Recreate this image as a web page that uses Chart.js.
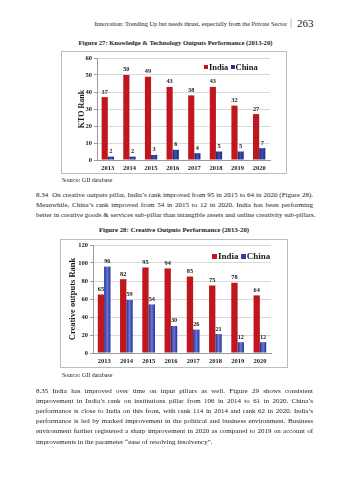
<!DOCTYPE html>
<html>
<head>
<meta charset="utf-8">
<script src="https://cdn.jsdelivr.net/npm/chart.js@4.4.1/dist/chart.umd.min.js"></script>
<style>
body{margin:0;width:349px;height:480px;background:#fff;position:relative;overflow:hidden;font-family:"Liberation Serif","Times New Roman",serif;color:#1a1a1a}
.t{position:absolute;white-space:nowrap;line-height:1}
.j{position:absolute;left:36px;width:277px;white-space:nowrap;text-align:justify;text-align-last:justify;font-size:7px;line-height:1}
.box{position:absolute;border:1px solid #bdbdbd;box-sizing:border-box}
.wrap{position:absolute}
.lg{position:absolute;font-weight:bold;white-space:nowrap;line-height:1;display:flex;align-items:center}
.sq{display:inline-block;margin-right:1px}
</style>
</head>
<body>

<div class="t" style="right:62px;top:21px;font-size:6.3px">Innovation: Trending Up but needs thrust, especially from the Private Sector</div>
<div class="t" style="left:290px;top:18px;font-size:10px;color:#777">|</div>
<div class="t" style="left:297px;top:17.5px;font-size:11px">263</div>

<div class="t" style="left:0;width:351px;text-align:center;top:39.5px;font-size:6.6px;font-weight:bold">Figure 27: Knowledge &amp; Technology Outputs Performance (2013-20)</div>

<div class="wrap" style="left:61px;top:51px;width:226px;height:123px"><canvas id="ktoChart"></canvas></div>
<div class="box" style="left:61px;top:51px;width:226px;height:123px"></div>
<div class="lg" style="left:204px;top:62.5px;font-size:8.5px">
  <span class="sq" style="width:4px;height:4px;background:#c0171f"></span>India&nbsp;
  <span class="sq" style="width:4px;height:4px;background:#26349a"></span>China
</div>

<div class="t" style="left:62px;top:177px;font-size:6px">Source: GII database</div>

<div class="j" style="top:191.5px">8.34&nbsp; On creative outputs pillar, India’s rank improved from 95 in 2015 to 64 in 2020 (Figure 28).</div>
<div class="j" style="top:201.5px">Meanwhile, China’s rank improved from 54 in 2015 to 12 in 2020. India has been performing</div>
<div class="j" style="top:211.5px">better in creative goods &amp; services sub-pillar than intangible assets and online creativity sub-pillars.</div>

<div class="t" style="left:0;width:348px;text-align:center;top:226.5px;font-size:6.8px;font-weight:bold">Figure 28: Creative Outputs Performance (2013-20)</div>

<div class="wrap" style="left:60px;top:239px;width:228px;height:129px"><canvas id="coChart"></canvas></div>
<div class="box" style="left:60px;top:239px;width:228px;height:129px"></div>
<div class="lg" style="left:212px;top:251.5px;font-size:9px">
  <span class="sq" style="width:5px;height:5px;background:#c0171f"></span>India&nbsp;
  <span class="sq" style="width:5px;height:5px;background:#2f3ea8"></span>China
</div>

<div class="t" style="left:62px;top:372px;font-size:6px">Source: GII database</div>

<div class="j" style="top:387.5px">8.35 India has improved over time on input pillars as well. Figure 29 shows consistent</div>
<div class="j" style="top:397.8px">improvement in India’s rank on institutions pillar from 106 in 2014 to 61 in 2020. China’s</div>
<div class="j" style="top:408px">performance is close to India on this front, with rank 114 in 2014 and rank 62 in 2020. India’s</div>
<div class="j" style="top:418.2px">performance is led by marked improvement in the political and business environment. Business</div>
<div class="j" style="top:428.4px">environment further registered a sharp improvement in 2020 as compared to 2019 on account of</div>
<div class="t" style="left:36px;top:438.6px;font-size:7px">improvements in the parameter “ease of resolving insolvency”.</div>

<script>
/* data */
const years = ['2013', '2014', '2015', '2016', '2017', '2018', '2019', '2020'];

const ktoIndia = [37, 50, 49, 43, 38, 43, 32, 27];
const ktoChina = [2, 2, 3, 6, 4, 5, 5, 7];
const ktoTicks = [0, 10, 20, 30, 40, 50, 60];

const coIndia = [65, 82, 95, 94, 85, 75, 78, 64];
const coChina = [96, 59, 54, 30, 26, 21, 12, 12];
const coTicks = [0, 20, 40, 60, 80, 100, 120];

const RED = '#c0171f';
const CAT_PCT = 0.57;

/* etiquetas de valor sobre as barras */
const valueLabels = {
  id: 'valueLabels',
  afterDatasetsDraw(chart, args, opts) {
    const ctx = chart.ctx;
    ctx.save();
    ctx.font = 'bold ' + opts.size + 'px "Liberation Serif"';
    ctx.fillStyle = '#1a1a1a';
    ctx.textAlign = 'center';
    ctx.textBaseline = 'bottom';
    chart.data.datasets.forEach((ds, i) => {
      chart.getDatasetMeta(i).data.forEach((bar, j) => {
        ctx.fillText(ds.data[j], bar.x, bar.y - 2);
      });
    });
    ctx.restore();
  }
};

// azul com centro mais claro, calculado a partir da escala x
function blueShade(dark, light) {
  return (c) => {
    const x = c.chart.scales.x;
    if (!x || c.dataIndex === undefined) return dark;
    const w = x.width / years.length * CAT_PCT / 2;
    const cx = x.getPixelForValue(c.dataIndex);
    if (!isFinite(w) || !isFinite(cx) || w <= 0) return dark;
    const g = c.chart.ctx.createLinearGradient(cx, 0, cx + w, 0);
    g.addColorStop(0, dark);
    g.addColorStop(0.5, light);
    g.addColorStop(1, dark);
    return g;
  };
}

function makeChart(id, india, china, ticks, cfg) {
  const ticksMax = ticks[ticks.length - 1];
  return new Chart(document.getElementById(id), {
    type: 'bar',
    data: {
      labels: years,
      datasets: [
        { label: 'India', data: india, backgroundColor: RED, categoryPercentage: CAT_PCT, barPercentage: 1 },
        { label: 'China', data: china, backgroundColor: blueShade(cfg.dark, cfg.light), categoryPercentage: CAT_PCT, barPercentage: 1 }
      ]
    },
    options: {
      responsive: true,
      maintainAspectRatio: false,
      animation: false,
      layout: { padding: { left: 0, right: cfg.padRight, top: cfg.padTop, bottom: 0 } },
      scales: {
        x: {
          grid: { display: false, drawTicks: false },
          border: { color: '#9a9a9a' },
          ticks: { color: '#1a1a1a', padding: cfg.xPad, font: { family: 'Liberation Serif', weight: 'bold', size: 6.5 } },
          afterFit: (s) => { s.height = cfg.xHeight; }
        },
        y: {
          min: 0,
          max: ticksMax,
          afterBuildTicks: (s) => { s.ticks = ticks.map(v => ({ value: v })); },
          grid: { color: '#d9d9d9', tickLength: 3, tickColor: '#9a9a9a' },
          border: { color: '#9a9a9a' },
          ticks: { color: '#1a1a1a', padding: 2, font: { family: 'Liberation Serif', weight: 'bold', size: 6.5 } },
          title: {
            display: true,
            text: cfg.yTitle,
            color: '#1a1a1a',
            padding: { top: cfg.titlePad, bottom: 0 },
            font: { family: 'Liberation Serif', weight: 'bold', size: cfg.titleSize, lineHeight: 1.2 }
          },
          afterFit: (s) => { s.width = cfg.yWidth; }
        }
      },
      plugins: {
        legend: { display: false },
        tooltip: { enabled: false },
        valueLabels: { size: 6.3 }
      }
    },
    plugins: [valueLabels]
  });
}

makeChart('ktoChart', ktoIndia, ktoChina, ktoTicks, {
  yTitle: 'KTO Rank', titleSize: 8, titlePad: 16,
  yWidth: 36, xHeight: 14, padRight: 17, padTop: 7, xPad: 4,
  dark: '#1b2878', light: '#3c50b8'
});

makeChart('coChart', coIndia, coChina, coTicks, {
  yTitle: 'Creative outputs Rank', titleSize: 8.5, titlePad: 8,
  yWidth: 33, xHeight: 15, padRight: 17, padTop: 6, xPad: 4.5,
  dark: '#202c96', light: '#6a7ad6'
});
</script>
</body>
</html>
